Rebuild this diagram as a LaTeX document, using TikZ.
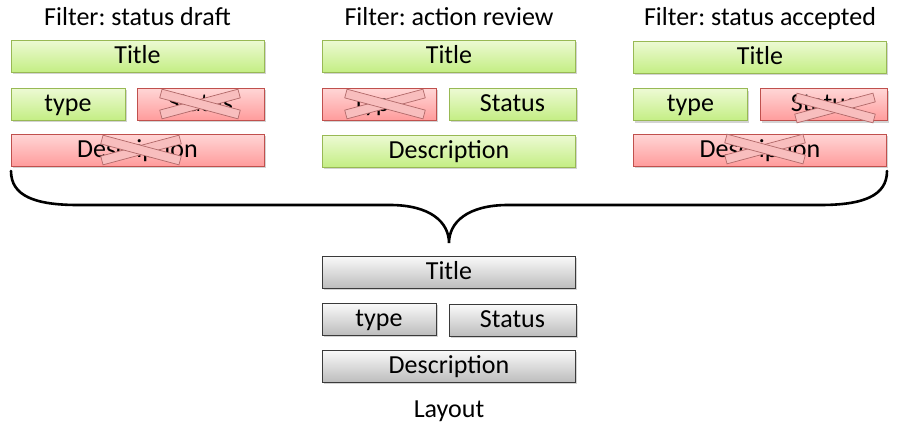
\documentclass[tikz,border=0pt]{standalone}
\usepackage{fontspec}
\setmainfont{Carlito}
\usetikzlibrary{shadows}
\definecolor{gtop}{HTML}{EDFAD4}
\definecolor{gbot}{HTML}{C4EE84}
\definecolor{gbord}{HTML}{98B954}
\definecolor{rtop}{HTML}{FFD6D6}
\definecolor{rbot}{HTML}{FF9C9C}
\definecolor{rbord}{HTML}{C0504D}
\definecolor{ktop}{HTML}{FAFAFA}
\definecolor{kbot}{HTML}{BDBDBD}
\definecolor{kbord}{HTML}{3A3A3A}
\definecolor{xfill}{HTML}{F8BEBE}
\definecolor{xbord}{HTML}{B06868}
\tikzset{
  fld/.style={rectangle, minimum height=32pt, inner sep=0pt, line width=0.8pt,
    text height=18pt, text depth=4pt,
    font=\fontsize{26}{30}\selectfont,
    drop shadow={shadow xshift=1.5pt, shadow yshift=-2pt, opacity=0.35, fill=gray}},
  wide/.style={minimum width=253pt},
  narrowa/.style={minimum width=114pt},
  narrowb/.style={minimum width=127pt},
  okfld/.style={fld, draw=gbord, top color=gtop, bottom color=gbot},
  badfld/.style={fld, draw=rbord, top color=rtop, bottom color=rbot},
  layfld/.style={fld, draw=kbord, top color=ktop, bottom color=kbot},
  hdr/.style={font=\fontsize{26}{30}\selectfont, inner sep=0pt, text height=18pt, text depth=4pt},
  xbar/.style={draw=xbord, fill=xfill, line width=0.7pt, rectangle, minimum width=81pt, minimum height=9pt, inner sep=0pt},
  brace/.style={line width=2.6pt, line cap=round}
}
\newcommand{\xmark}[2]{%
  \node[xbar, rotate=15] at (#1,#2) {};
  \node[xbar, rotate=-15] at (#1,#2) {};}
\frenchspacing
\begin{document}
\begin{tikzpicture}[x=1pt,y=-1pt]
\useasboundingbox (0,0) rectangle (900,432);
% headers
\node[hdr] (h1) at (137.5,18) {Filter: status draft};
\node[hdr] (h2) at (449,18) {Filter: action review};
\node[hdr] (h3) at (760,18) {Filter: status accepted};
% column 1
\node[okfld, wide] (t1) at (137.5,56) {Title};
\node[okfld, narrowa] (ty1) at (68,104) {type};
\node[badfld, narrowb] (s1) at (200.5,104) {Status};
\node[badfld, wide] (d1) at (137.5,150) {Description};
\xmark{200}{104}
\xmark{141}{150}
% column 2
\node[okfld, wide] (t2) at (449,56) {Title};
\node[badfld, narrowa] (ty2) at (379,104) {type};
\node[okfld, narrowb] (s2) at (512.5,104) {Status};
\node[okfld, wide] (d2) at (449,151) {Description};
\xmark{385}{104}
% column 3
\node[okfld, wide] (t3) at (760,57) {Title};
\node[okfld, narrowa] (ty3) at (690.5,104.5) {type};
\node[badfld, narrowb] (s3) at (823.5,104.5) {Status};
\node[badfld, wide] (d3) at (760,150) {Description};
\xmark{835}{108}
\xmark{765}{149}
% brace
\coordinate (bl) at (11,171);
\coordinate (br) at (887,171);
\coordinate (tip) at (449,243);
\draw[brace] (bl) .. controls (11,196) and (35,205) .. (78,205)
  -- (390,205) .. controls (430,205) and (449,222) .. (tip)
  .. controls (449,222) and (468,205) .. (508,205)
  -- (820,205) .. controls (863,205) and (887,196) .. (br);
% layout
\node[layfld, wide] (t4) at (449,272) {Title};
\node[layfld, narrowa] (ty4) at (379,319) {type};
\node[layfld, narrowb] (s4) at (512.5,320) {Status};
\node[layfld, wide] (d4) at (449,366) {Description};
\node[hdr] (lay) at (449,410) {Layout};
\end{tikzpicture}
\end{document}
